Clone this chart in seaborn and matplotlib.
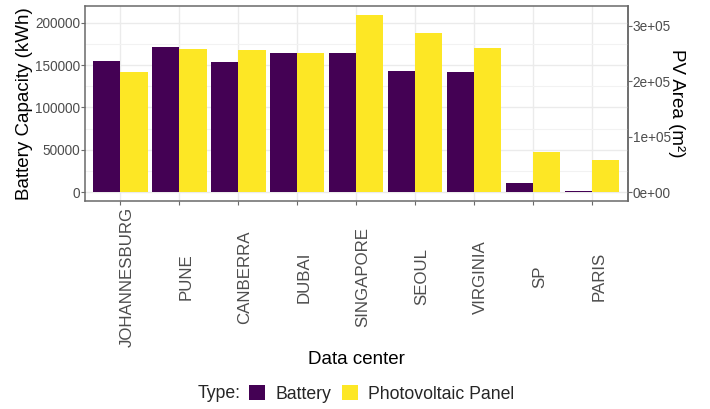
import numpy as np
import pandas as pd
import matplotlib
matplotlib.use("Agg")
import matplotlib.pyplot as plt
from matplotlib.patches import Patch
from matplotlib.ticker import MultipleLocator, FuncFormatter, FixedLocator
from matplotlib.transforms import ScaledTranslation
import seaborn as sns

# Data
data_centers = ['JOHANNESBURG', 'PUNE', 'CANBERRA', 'DUBAI', 'SINGAPORE',
                'SEOUL', 'VIRGINIA', 'SP', 'PARIS']
battery_kwh = [155400, 171600, 154200, 164900, 164900, 143500, 142400, 11000, 1000]
pv_area_m2 = [217000, 258000, 256000, 251400, 320000, 287500, 260500, 72300, 58300]
type_labels = ['Battery', 'Photovoltaic Panel']
type_colors = ['#440154', '#FDE725']

# PV area is drawn on the battery scale, the right axis converts it back
pv_scale = 1.525

# Long format for seaborn
df = pd.DataFrame({
    'Data center': data_centers * 2,
    'Type': [type_labels[0]] * len(data_centers) + [type_labels[1]] * len(data_centers),
    'Value': battery_kwh + [v / pv_scale for v in pv_area_m2],
})

# Plotting style
sns.set_theme(style="whitegrid")
plt.rcParams['font.family'] = ['Liberation Sans', 'DejaVu Sans']

frame_color = '#6A6A6A'

fig = plt.figure(figsize=(7.1, 4.09), dpi=100)
ax = fig.add_axes([85 / 710, 1 - 201 / 409, 542.7 / 710, 195.3 / 409])

sns.barplot(data=df, x='Data center', y='Value', hue='Type', order=data_centers,
            hue_order=type_labels, palette=type_colors, width=0.92, gap=0,
            errorbar=None, saturation=1, linewidth=0, ax=ax)
ax.get_legend().remove()

ax.set_xlim(-0.6, len(data_centers) - 0.4)
ax.set_ylim(-10500, 220300)

# Grid like theme_bw
ax.set_facecolor('white')
ax.yaxis.set_major_locator(MultipleLocator(50000))
ax.yaxis.set_minor_locator(FixedLocator([25000, 75000, 125000, 175000]))
ax.yaxis.set_major_formatter(FuncFormatter(lambda v, p: f"{int(v)}"))
ax.grid(True, which='major', color='#EBEBEB', linewidth=1.0)
ax.grid(True, which='minor', axis='y', color='#F2F2F2', linewidth=0.8)
ax.set_axisbelow(True)
for s in ax.spines.values():
    s.set_color(frame_color)
    s.set_linewidth(1.1)

ax.tick_params(axis='y', which='major', left=True, length=2.6, width=0.8,
               color=frame_color, labelcolor='#4D4D4D', labelsize=9.8, pad=1)
ax.tick_params(axis='y', which='minor', left=False)
ax.tick_params(axis='x', bottom=True, length=2.6, width=0.8, color=frame_color,
               labelcolor='#4D4D4D', labelsize=12.2, pad=52)
for lab in ax.get_xticklabels():
    lab.set_rotation(90)
    lab.set_ha('left')
    lab.set_va('center')
    lab.set_transform(lab.get_transform() + ScaledTranslation(-1 / 100, 0, fig.dpi_scale_trans))

# Axis titles
ax.set_xlabel('Data center', fontsize=13.5, color='black', va='center')
ax.xaxis.set_label_coords(0.5, (201 - 359) / 195.3)
ax.set_ylabel('Battery Capacity (kWh)', fontsize=13.5, color='black', va='center')
ax.yaxis.set_label_coords((24.5 - 85) / 542.7, 0.5)

# Secondary axis for PV area
sec = ax.secondary_yaxis('right', functions=(lambda x: x * pv_scale, lambda x: x / pv_scale))
sec.yaxis.set_major_locator(FixedLocator([0, 1e5, 2e5, 3e5]))
sec.yaxis.set_major_formatter(FuncFormatter(lambda v, p: f"{v:.0e}"))
sec.tick_params(axis='y', length=2.6, width=0.8, color=frame_color,
                labelcolor='#4D4D4D', labelsize=9.8, pad=1)
sec.spines['right'].set_color(frame_color)
sec.spines['right'].set_linewidth(1.1)
fig.text(677 / 710, 1 - 103.4 / 409, 'PV Area (m²)', fontsize=13.5, color='black',
         rotation=270, ha='center', va='center')

# Legend at the bottom
handles = [Patch(facecolor=c, edgecolor='none', label=l) for c, l in zip(type_colors, type_labels)]
fig.text(198 / 710, 1 - 394 / 409, 'Type:', fontsize=12.7, va='center', ha='left')
fig.legend(handles=handles, loc='center left', bbox_to_anchor=(249 / 710, 1 - 394 / 409),
           ncol=2, frameon=False, fontsize=12.7, handlelength=0.9, handleheight=0.9,
           handletextpad=0.6, columnspacing=0.6, borderpad=0, borderaxespad=0)

fig.savefig('out.png', dpi=100)
